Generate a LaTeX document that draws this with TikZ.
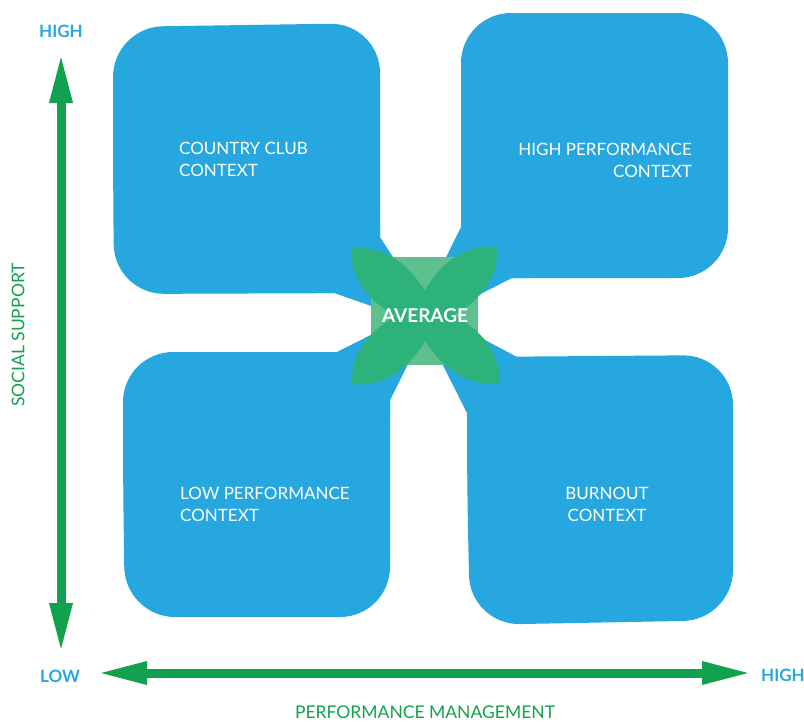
\documentclass[tikz,border=0pt]{standalone}
\usepackage{fontspec}
\setmainfont{Lato}
\usetikzlibrary{positioning,calc,arrows.meta}
\definecolor{quadblue}{RGB}{39,167,224}
\definecolor{axisgreen}{RGB}{18,161,78}
\definecolor{avgdark}{RGB}{46,178,124}
\definecolor{avglight}{RGB}{93,192,142}
\newcommand*{\ctx}[1]{\fontsize{17}{22}\selectfont #1}

\begin{document}
\begin{tikzpicture}[x=1pt,y=-1pt,
  quad/.style={fill=quadblue,rounded corners=50pt},
  wedge/.style={fill=quadblue},
  petal/.style={fill=avgdark},
  ctxlabel/.style={text=white,inner sep=0pt,font=\ctx},
  ends/.style={text=quadblue,inner sep=0pt,font=\bfseries\fontsize{17}{17}\selectfont},
  axlabel/.style={text=axisgreen,inner sep=0pt,font=\fontsize{17.5}{18}\selectfont},
  axis/.style={draw=axisgreen,line width=9pt}]
\useasboundingbox (0,0) rectangle (804,721);
% Four quadrants: rounded squares, inner corner pulled to the middle
\fill[quad] (113,160) -- (113,27) -- (380,23) -- (380,293) -- (114,294) -- cycle;
\fill[wedge] (320,220) -- (380,220) -- (380,237) -- (440,330) -- (334,293) -- (320,293) -- cycle;
\fill[quad] (461,150) -- (461,13) -- (728,13) -- (728,278) -- (461,278) -- cycle;
\fill[wedge] (461,210) -- (530,210) -- (530,278) -- (512,278) -- (410,330) -- (461,227) -- cycle;
\fill[quad] (123,480) -- (123,352) -- (390,352) -- (390,617) -- (125,617) -- cycle;
\fill[wedge] (320,352) -- (337,352) -- (440,300) -- (390,400) -- (390,420) -- (320,420) -- cycle;
\fill[quad] (467,480) -- (467,357) -- (733,355) -- (733,620) -- (470,625) -- cycle;
\fill[wedge] (540,357) -- (517,357) -- (410,300) -- (467,413) -- (467,430) -- (540,430) -- cycle;
% Middle cross: light square under four leaves
\coordinate (c) at (425,316);
\fill[avglight] (371,257) rectangle (478,365);
\foreach \a in {137.5,43.8,222.9,318.2}
  \fill[petal,shift={(c)},rotate=\a] (-30,0) .. controls (0,14) and (62,44) .. (100,0)
    .. controls (62,-44) and (0,-14) .. (-30,0);
\node[text=white,inner sep=0pt,font=\bfseries\fontsize{19}{19}\selectfont] (avg) at (c) {AVERAGE};
% Quadrant names
\node[ctxlabel,anchor=west,align=left] (club) at (179,159) {COUNTRY CLUB\\CONTEXT};
\node[ctxlabel,anchor=east,align=right] (highperf) at (692,160) {HIGH PERFORMANCE\\CONTEXT};
\node[ctxlabel,anchor=west,align=left] (lowperf) at (180,504) {LOW PERFORMANCE\\CONTEXT};
\node[ctxlabel,align=center] (burnout) at (607,504) {BURNOUT\\CONTEXT};
% Axes
\node[ends] (ytop) at (61,31) {HIGH};
\node[ends] (xlow) at (60,676) {LOW};
\node[ends] (xhigh) at (783,675) {HIGH};
\node[axlabel] (xname) at (425,712) {PERFORMANCE MANAGEMENT};
\node[axlabel,rotate=90] (yname) at (18,335) {SOCIAL SUPPORT};
\coordinate (vtop) at (61,53);
\coordinate (vbot) at (61,653);
\coordinate (hleft) at (97,673);
\coordinate (hright) at (752,673);
\draw[axis,{Triangle[length=50pt,width=21pt]}-{Triangle[length=50pt,width=21pt]}] (vbot) -- (vtop);
\draw[axis,{Triangle[length=50pt,width=21pt]}-{Triangle[length=50pt,width=21pt]}] (hleft) -- (hright);
\end{tikzpicture}
\end{document}
